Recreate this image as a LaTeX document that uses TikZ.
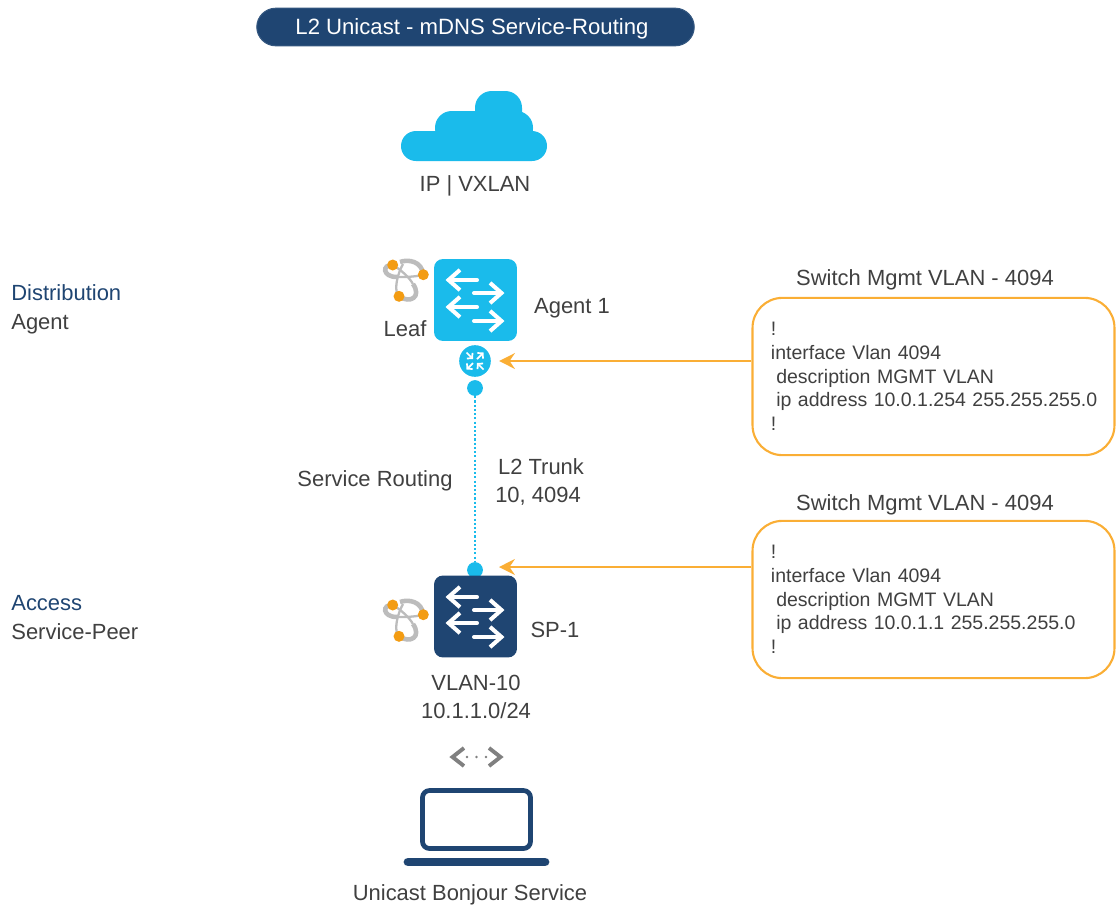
\documentclass[tikz,border=0pt]{standalone}
\usepackage{xcolor}
\usepackage{fontspec}
\setmainfont{Liberation Sans}
\usepackage{tikz}
\usetikzlibrary{arrows.meta,positioning}

\definecolor{navyblue}{HTML}{1F4572}
\definecolor{skyblue}{HTML}{1ABBEB}
\definecolor{callorange}{HTML}{FAAE35}
\definecolor{dotorange}{HTML}{F39C12}
\definecolor{ringgray}{HTML}{BCBCBC}
\definecolor{labelgray}{HTML}{404040}

\tikzset{
    lbl/.style={text=labelgray, inner sep=0pt, text height=9pt, text depth=0pt, font=\fontsize{12.5}{15}\selectfont},
    lblleft/.style={lbl, anchor=west},
    switchbox/.style={draw=none, rounded corners=5pt, minimum width=47.2pt, minimum height=46.6pt, inner sep=0pt},
    dotnode/.style={circle, fill=skyblue, minimum size=9pt, inner sep=0pt},
    callbox/.style={draw=callorange, line width=1.2pt, rounded corners=17pt, minimum width=206pt, minimum height=89.5pt,
        text width=185pt, align=left, text=labelgray, font=\fontsize{11.1}{13.5}\selectfont},
    callarrow/.style={draw=callorange, line width=1.2pt, -{Stealth[length=9pt, width=9pt, inset=3pt]}},
    swarrow/.style={draw=white, line width=2.3pt, line cap=round, -{Straight Barb[length=6.5pt, width=11.5pt, line width=2.3pt]}},
    rtarrow/.style={draw=white, line width=1pt, -{Straight Barb[length=2pt, width=4.5pt, line width=1pt]}},
    thickring/.style={draw=ringgray, line width=2.6pt},
    thinring/.style={draw=ringgray, line width=1.3pt}
}

\newcommand{\switcharrows}[2]{
        \begin{scope}[shift={(#1)}]
            \foreach \ya/\xa/\xb in {#2}
                \draw[swarrow] (\xa,\ya) -- (\xb,\ya);
        \end{scope}
}

\newcommand{\ringicon}[1]{
        \begin{scope}[shift={(#1)}]
            \draw[thickring] (-12.3,-14) .. controls (-23,-15) and (-23,-2) .. (-8,-2);
            \draw[thinring] (-8,-2) .. controls (0,-2) and (8,-2) .. (18,-4);
            \draw[thickring] (-5,-17) .. controls (3,-20) and (17,-18) .. (18.3,-4.3);
            \draw[thickring] (-6,17.3) .. controls (5,25) and (17,18) .. (8,5);
            \draw[thinring] (8,5) .. controls (4,-2) and (-4,-9) .. (-12,-14);
            \draw[thinring] (-2,-15) .. controls (-8,-4) and (-10,8) .. (-8,14);
            \fill[dotorange] (-12.3,-14) circle (5.5);
            \fill[dotorange] (18.3,-4.3) circle (5.5);
            \fill[dotorange] (-6,17.3) circle (5.5);
        \end{scope}
}

\begin{document}
\begin{tikzpicture}[x=0.02cm, y=-0.02cm]
        \useasboundingbox (0,0) rectangle (1119,907);

        \node[fill=navyblue, draw=navyblue!90, line width=0.6pt, rounded corners=10.8pt, minimum width=249pt, minimum height=21.4pt, inner sep=0pt,
            text=white, text height=9pt, text depth=0pt, font=\fontsize{12.6}{15}\selectfont] (title) at (475.5,27) {L2 Unicast - mDNS Service-Routing\hspace*{4pt}};

        \fill[skyblue, rounded corners=9.5pt] (475,91) rectangle (522,135);
        \fill[skyblue, rounded corners=9.5pt] (435,111) rectangle (533,145);
        \fill[skyblue, rounded corners=8.5pt] (401,131) rectangle (547,161);
        \node[lbl] (cloudlbl) at (475,184) {IP | VXLAN};

        \node[lblleft, text=navyblue] (distlbl) at (11,293) {Distribution};
        \node[lblleft] (agentlbl) at (11,322) {Agent};
        \node[lblleft, text=navyblue] (accesslbl) at (11,603) {Access};
        \node[lblleft] (peerlbl) at (11,632) {Service-Peer};

        \node[switchbox, fill=skyblue] (leaf) at (475.5,300) {};
        \switcharrows{leaf.center}{-20/1.5/-30, -7/-1.5/29, 7/1.5/-30, 21/-1.5/29}
        \ringicon{405,279}
        \node[lbl] (leaflbl) at (405,329) {Leaf};
        \node[lbl] (agentone) at (572,306) {Agent 1};

        \node[circle, fill=skyblue, minimum size=18pt, inner sep=0pt] (router) at (475,361) {};
        \begin{scope}[shift={(router.center)}]
            \draw[rtarrow] (-8.5,-8.5) -- (-2,-2);
            \draw[rtarrow] (2,-2) -- (8.5,-8.5);
            \draw[rtarrow] (-2,2) -- (-8.5,8.5);
            \draw[rtarrow] (8.5,8.5) -- (2,2);
        \end{scope}

        \node[dotnode] (leafdot) at (475,388) {};
        \node[dotnode] (peerdot) at (475,570) {};
        \draw[draw=skyblue, line width=1.4pt, dash pattern=on 1.2pt off 1.2pt] (leafdot) -- (peerdot);

        \node[lbl] (routinglbl) at (375,479) {Service Routing};
        \node[lbl] (trunklbl) at (541,467) {L2 Trunk};
        \node[lbl] (vlanlbl) at (538,495) {10, 4094};

        \node[switchbox, fill=navyblue] (spine) at (475.5,616.5) {};
        \switcharrows{spine.center}{-19.5/1.5/-30, -6.5/-1.5/29, 6.5/1.5/-30, 20.5/-1.5/29}
        \ringicon{405,619}
        \node[lbl] (splbl) at (555,630) {SP-1};
        \node[lbl] (vlantenlbl) at (476,683) {VLAN-10};
        \node[lbl] (subnetlbl) at (476,711) {10.1.1.0/24};

        \node[lbl] (agentmgmt) at (925,278) {Switch Mgmt VLAN - 4094};
        \node[callbox] (agentcfg) at (933.5,376.5) {!\\interface Vlan 4094\\\hspace*{3pt}description MGMT VLAN\\\mbox{\hspace*{3pt}ip address 10.0.1.254 255.255.255.0}\\!};
        \node[lbl] (peermgmt) at (925,503) {Switch Mgmt VLAN - 4094};
        \node[callbox] (peercfg) at (933.5,599.5) {!\\interface Vlan 4094\\\hspace*{3pt}description MGMT VLAN\\\mbox{\hspace*{3pt}ip address 10.0.1.1 255.255.255.0}\\!};

        \coordinate (peertip) at (499,567);
        \draw[callarrow, shorten >=4.5pt] (agentcfg.west |- router) -- (router);
        \draw[callarrow] (peercfg.west |- peertip) -- (peertip);

        \draw[draw=gray, line width=2.2pt] (464,748) -- (452.5,757) -- (464,766);
        \draw[draw=gray, line width=2.2pt] (489,748) -- (500.5,757) -- (489,766);
        \foreach \xa in {467,476.5,486}
            \fill[gray] (\xa,757) circle (1.4);

        \draw[draw=navyblue, line width=2.7pt, rounded corners=4pt] (422.5,790.5) rectangle (530.5,848.5);
        \draw[draw=navyblue, line width=5pt, line cap=round] (408,862) -- (545,862);
        \node[lbl] (bonjourlbl) at (470,893) {Unicast Bonjour Service};
\end{tikzpicture}
\end{document}
